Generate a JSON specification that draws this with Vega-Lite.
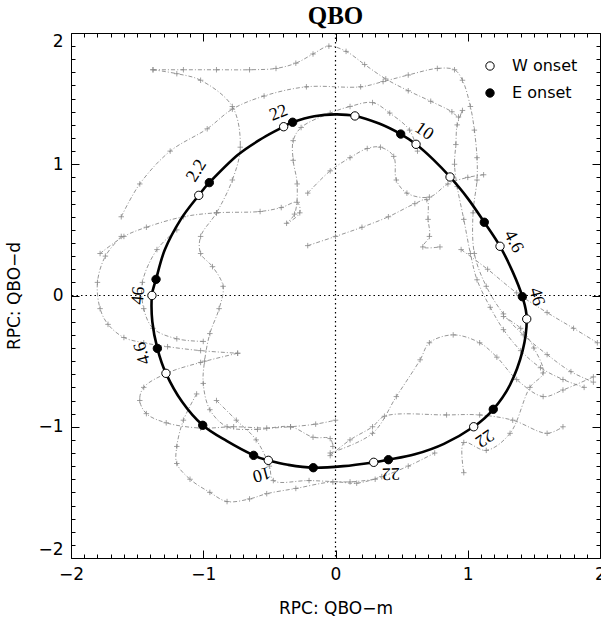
{
  "$schema": "https://vega.github.io/schema/vega-lite/v6.json",
  "autosize": {"type": "none"},
  "padding": {"left": 71, "top": 33, "right": 1, "bottom": 64},
  "width": 529,
  "height": 525,
  "background": "white",
  "title": {"text": "QBO", "font": "Liberation Serif", "fontSize": 25, "fontWeight": "bold", "color": "black", "anchor": "middle", "offset": 3},
  "config": {
    "view": {"stroke": "black", "strokeWidth": 1},
    "axis": {"grid": false, "domain": false, "tickColor": "black", "labelColor": "black", "titleColor": "black", "labelOverlap": false}
  },
  "datasets": {
    "strands": [
      {"s":1,"i":0,"x":-1.38,"y":1.72},{"s":1,"i":1,"x":-1.15,"y":1.72},{"s":1,"i":2,"x":-0.9,"y":1.72},{"s":1,"i":3,"x":-0.65,"y":1.72},{"s":1,"i":4,"x":-0.45,"y":1.73},{"s":1,"i":5,"x":-0.3,"y":1.77},{"s":1,"i":6,"x":-0.17,"y":1.84},{"s":1,"i":7,"x":-0.05,"y":1.9},{"s":1,"i":8,"x":0.08,"y":1.86},{"s":1,"i":9,"x":0.22,"y":1.76},{"s":1,"i":10,"x":0.38,"y":1.65},{"s":1,"i":11,"x":0.55,"y":1.56},{"s":1,"i":12,"x":0.72,"y":1.48},{"s":1,"i":13,"x":0.88,"y":1.4},{"s":1,"i":14,"x":0.93,"y":1.36},{"s":1,"i":15,"x":0.96,"y":1.41},{"s":1,"i":16,"x":0.92,"y":1.3},{"s":1,"i":17,"x":0.91,"y":1.15},{"s":1,"i":18,"x":0.9,"y":1.0},{"s":1,"i":19,"x":0.92,"y":0.83},{"s":1,"i":20,"x":0.97,"y":0.58},{"s":1,"i":21,"x":1.02,"y":0.32},{"s":1,"i":22,"x":1.07,"y":0.12},{"s":1,"i":23,"x":1.17,"y":-0.09},{"s":1,"i":24,"x":1.27,"y":-0.26},{"s":1,"i":25,"x":1.4,"y":-0.42},{"s":1,"i":26,"x":1.55,"y":-0.55},{"s":1,"i":27,"x":1.72,"y":-0.64},{"s":1,"i":28,"x":1.88,"y":-0.7},
      {"s":2,"i":0,"x":-1.62,"y":0.6},{"s":2,"i":1,"x":-1.48,"y":0.85},{"s":2,"i":2,"x":-1.25,"y":1.1},{"s":2,"i":3,"x":-0.97,"y":1.27},{"s":2,"i":4,"x":-0.78,"y":1.42},{"s":2,"i":5,"x":-0.54,"y":1.52},{"s":2,"i":6,"x":-0.22,"y":1.59},{"s":2,"i":7,"x":0.19,"y":1.59},{"s":2,"i":8,"x":0.36,"y":1.63},{"s":2,"i":9,"x":0.55,"y":1.68},{"s":2,"i":10,"x":0.77,"y":1.73},{"s":2,"i":11,"x":0.9,"y":1.72},{"s":2,"i":12,"x":0.96,"y":1.64},{"s":2,"i":13,"x":1.02,"y":1.44},{"s":2,"i":14,"x":1.05,"y":1.26},{"s":2,"i":15,"x":1.07,"y":1.05},{"s":2,"i":16,"x":1.07,"y":0.88},{"s":2,"i":17,"x":1.04,"y":0.63},{"s":2,"i":18,"x":1.05,"y":0.32},{"s":2,"i":19,"x":1.14,"y":0.07},{"s":2,"i":20,"x":1.27,"y":-0.14},{"s":2,"i":21,"x":1.42,"y":-0.3},{"s":2,"i":22,"x":1.6,"y":-0.45},{"s":2,"i":23,"x":1.78,"y":-0.58},{"s":2,"i":24,"x":1.95,"y":-0.66},
      {"s":3,"i":0,"x":-1.38,"y":1.72},{"s":3,"i":1,"x":-1.2,"y":1.69},{"s":3,"i":2,"x":-1.02,"y":1.64},{"s":3,"i":3,"x":-0.78,"y":1.44},{"s":3,"i":4,"x":-0.72,"y":1.13},{"s":3,"i":5,"x":-0.78,"y":0.88},{"s":3,"i":6,"x":-0.9,"y":0.63},{"s":3,"i":7,"x":-1.02,"y":0.45},{"s":3,"i":8,"x":-1.02,"y":0.32},{"s":3,"i":9,"x":-0.93,"y":0.22},{"s":3,"i":10,"x":-0.85,"y":0.07},{"s":3,"i":11,"x":-0.88,"y":-0.1},{"s":3,"i":12,"x":-0.95,"y":-0.29},{"s":3,"i":13,"x":-0.99,"y":-0.5},{"s":3,"i":14,"x":-1.0,"y":-0.67},{"s":3,"i":15,"x":-0.95,"y":-0.87},{"s":3,"i":16,"x":-0.82,"y":-1.0},{"s":3,"i":17,"x":-0.59,"y":-1.02},{"s":3,"i":18,"x":-0.34,"y":-1.0},{"s":3,"i":19,"x":-0.17,"y":-1.08},{"s":3,"i":20,"x":-0.04,"y":-1.09},{"s":3,"i":21,"x":-0.02,"y":-1.15},
      {"s":4,"i":0,"x":-1.78,"y":0.32},{"s":4,"i":1,"x":-1.6,"y":0.45},{"s":4,"i":2,"x":-1.43,"y":0.52},{"s":4,"i":3,"x":-1.15,"y":0.6},{"s":4,"i":4,"x":-0.9,"y":0.63},{"s":4,"i":5,"x":-0.57,"y":0.64},{"s":4,"i":6,"x":-0.41,"y":0.67},{"s":4,"i":7,"x":-0.29,"y":0.71},{"s":4,"i":8,"x":-0.27,"y":0.63},{"s":4,"i":9,"x":-0.37,"y":0.55},{"s":4,"i":10,"x":-0.31,"y":0.62},{"s":4,"i":11,"x":-0.29,"y":0.85},{"s":4,"i":12,"x":-0.32,"y":1.03},{"s":4,"i":13,"x":-0.32,"y":1.18},{"s":4,"i":14,"x":-0.26,"y":1.28},{"s":4,"i":15,"x":-0.04,"y":1.39},{"s":4,"i":16,"x":0.11,"y":1.44},{"s":4,"i":17,"x":0.28,"y":1.47},{"s":4,"i":18,"x":0.41,"y":1.39},{"s":4,"i":19,"x":0.56,"y":1.26},{"s":4,"i":20,"x":0.62,"y":1.1},
      {"s":5,"i":0,"x":-0.21,"y":0.78},{"s":5,"i":1,"x":-0.04,"y":0.95},{"s":5,"i":2,"x":0.11,"y":1.05},{"s":5,"i":3,"x":0.24,"y":1.12},{"s":5,"i":4,"x":0.34,"y":1.13},{"s":5,"i":5,"x":0.44,"y":1.06},{"s":5,"i":6,"x":0.46,"y":0.88},{"s":5,"i":7,"x":0.54,"y":0.78},{"s":5,"i":8,"x":0.71,"y":0.75},{"s":5,"i":9,"x":0.85,"y":0.85},{"s":5,"i":10,"x":1.0,"y":0.9},{"s":5,"i":11,"x":1.12,"y":0.92},
      {"s":6,"i":0,"x":-0.21,"y":0.38},{"s":6,"i":1,"x":0.0,"y":0.45},{"s":6,"i":2,"x":0.2,"y":0.52},{"s":6,"i":3,"x":0.4,"y":0.6},{"s":6,"i":4,"x":0.6,"y":0.7},{"s":6,"i":5,"x":0.69,"y":0.73},{"s":6,"i":6,"x":0.7,"y":0.58},{"s":6,"i":7,"x":0.71,"y":0.45},{"s":6,"i":8,"x":0.66,"y":0.37},{"s":6,"i":9,"x":0.79,"y":0.37},
      {"s":7,"i":0,"x":-1.62,"y":0.45},{"s":7,"i":1,"x":-1.74,"y":0.3},{"s":7,"i":2,"x":-1.8,"y":0.1},{"s":7,"i":3,"x":-1.78,"y":-0.1},{"s":7,"i":4,"x":-1.72,"y":-0.22},{"s":7,"i":5,"x":-1.6,"y":-0.32},{"s":7,"i":6,"x":-1.45,"y":-0.36},{"s":7,"i":7,"x":-1.27,"y":-0.39},{"s":7,"i":8,"x":-1.02,"y":-0.42},{"s":7,"i":9,"x":-0.74,"y":-0.44},
      {"s":8,"i":0,"x":-0.74,"y":-0.44},{"s":8,"i":1,"x":-1.02,"y":-0.51},{"s":8,"i":2,"x":-1.27,"y":-0.59},{"s":8,"i":3,"x":-1.45,"y":-0.7},{"s":8,"i":4,"x":-1.48,"y":-0.8},{"s":8,"i":5,"x":-1.43,"y":-0.9},{"s":8,"i":6,"x":-1.28,"y":-0.97},{"s":8,"i":7,"x":-1.02,"y":-1.01},{"s":8,"i":8,"x":-0.77,"y":-1.0},{"s":8,"i":9,"x":-0.52,"y":-1.01},{"s":8,"i":10,"x":-0.34,"y":-1.0},{"s":8,"i":11,"x":-0.15,"y":-0.98},{"s":8,"i":12,"x":0.0,"y":-0.95},
      {"s":9,"i":0,"x":-1.05,"y":-0.75},{"s":9,"i":1,"x":-1.15,"y":-0.95},{"s":9,"i":2,"x":-1.2,"y":-1.15},{"s":9,"i":3,"x":-1.2,"y":-1.28},{"s":9,"i":4,"x":-1.1,"y":-1.4},{"s":9,"i":5,"x":-0.95,"y":-1.5},{"s":9,"i":6,"x":-0.82,"y":-1.57},{"s":9,"i":7,"x":-0.65,"y":-1.55},{"s":9,"i":8,"x":-0.52,"y":-1.51},{"s":9,"i":9,"x":-0.3,"y":-1.47},{"s":9,"i":10,"x":-0.02,"y":-1.42},{"s":9,"i":11,"x":0.16,"y":-1.43},{"s":9,"i":12,"x":0.35,"y":-1.38},{"s":9,"i":13,"x":0.55,"y":-1.3},{"s":9,"i":14,"x":0.75,"y":-1.2},
      {"s":10,"i":0,"x":-0.9,"y":-0.8},{"s":10,"i":1,"x":-0.75,"y":-0.95},{"s":10,"i":2,"x":-0.6,"y":-1.1},{"s":10,"i":3,"x":-0.5,"y":-1.3},{"s":10,"i":4,"x":-0.47,"y":-1.41},{"s":10,"i":5,"x":-0.2,"y":-1.41},{"s":10,"i":6,"x":0.11,"y":-1.42},{"s":10,"i":7,"x":0.3,"y":-1.4},
      {"s":11,"i":0,"x":-0.04,"y":-1.2},{"s":11,"i":1,"x":0.28,"y":-1.05},{"s":11,"i":2,"x":0.46,"y":-0.77},{"s":11,"i":3,"x":0.64,"y":-0.49},{"s":11,"i":4,"x":0.71,"y":-0.36},{"s":11,"i":5,"x":0.89,"y":-0.3},{"s":11,"i":6,"x":1.09,"y":-0.36},{"s":11,"i":7,"x":1.22,"y":-0.47},{"s":11,"i":8,"x":1.37,"y":-0.64},{"s":11,"i":9,"x":1.57,"y":-0.77},{"s":11,"i":10,"x":1.72,"y":-0.72},{"s":11,"i":11,"x":1.95,"y":-0.62},
      {"s":12,"i":0,"x":-0.04,"y":-1.22},{"s":12,"i":1,"x":0.11,"y":-1.1},{"s":12,"i":2,"x":0.28,"y":-1.0},{"s":12,"i":3,"x":0.37,"y":-0.92},{"s":12,"i":4,"x":0.84,"y":-0.91},{"s":12,"i":5,"x":1.09,"y":-0.91},{"s":12,"i":6,"x":1.34,"y":-0.95},{"s":12,"i":7,"x":1.6,"y":-1.05},{"s":12,"i":8,"x":1.72,"y":-1.0},
      {"s":13,"i":0,"x":0.97,"y":-1.35},{"s":13,"i":1,"x":0.97,"y":-1.12},{"s":13,"i":2,"x":1.14,"y":-1.18},{"s":13,"i":3,"x":1.32,"y":-1.05},{"s":13,"i":4,"x":1.47,"y":-0.7},{"s":13,"i":5,"x":1.57,"y":-0.59},{"s":13,"i":6,"x":1.5,"y":-0.4},{"s":13,"i":7,"x":1.4,"y":-0.25},{"s":13,"i":8,"x":1.27,"y":-0.16},
      {"s":14,"i":0,"x":0.95,"y":0.35},{"s":14,"i":1,"x":1.15,"y":0.2},{"s":14,"i":2,"x":1.37,"y":0.02},{"s":14,"i":3,"x":1.6,"y":-0.13},{"s":14,"i":4,"x":1.8,"y":-0.25},{"s":14,"i":5,"x":1.98,"y":-0.36},
      {"s":15,"i":0,"x":-1.2,"y":0.5},{"s":15,"i":1,"x":-1.35,"y":0.35},{"s":15,"i":2,"x":-1.46,"y":0.1},{"s":15,"i":3,"x":-1.45,"y":-0.1},{"s":15,"i":4,"x":-1.38,"y":-0.25},{"s":15,"i":5,"x":-1.2,"y":-0.33},{"s":15,"i":6,"x":-1.0,"y":-0.35}
    ],
    "cycle": [
      {"i":0,"x":0.0,"y":1.38},{"i":1,"x":0.147,"y":1.368},{"i":2,"x":0.33,"y":1.31},{"i":3,"x":0.493,"y":1.23},{"i":4,"x":0.609,"y":1.152},{"i":5,"x":0.74,"y":1.035},{"i":6,"x":0.866,"y":0.903},{"i":7,"x":1.0,"y":0.74},{"i":8,"x":1.125,"y":0.558},{"i":9,"x":1.244,"y":0.375},{"i":10,"x":1.34,"y":0.18},{"i":11,"x":1.413,"y":-0.009},{"i":12,"x":1.446,"y":-0.179},{"i":13,"x":1.415,"y":-0.42},{"i":14,"x":1.32,"y":-0.68},{"i":15,"x":1.193,"y":-0.867},{"i":16,"x":1.045,"y":-1.0},{"i":17,"x":0.82,"y":-1.13},{"i":18,"x":0.6,"y":-1.21},{"i":19,"x":0.4,"y":-1.251},{"i":20,"x":0.289,"y":-1.271},{"i":21,"x":0.06,"y":-1.3},{"i":22,"x":-0.168,"y":-1.312},{"i":23,"x":-0.36,"y":-1.29},{"i":24,"x":-0.508,"y":-1.256},{"i":25,"x":-0.619,"y":-1.218},{"i":26,"x":-0.82,"y":-1.11},{"i":27,"x":-1.004,"y":-0.989},{"i":28,"x":-1.16,"y":-0.81},{"i":29,"x":-1.282,"y":-0.593},{"i":30,"x":-1.347,"y":-0.403},{"i":31,"x":-1.385,"y":-0.2},{"i":32,"x":-1.388,"y":0.0},{"i":33,"x":-1.357,"y":0.123},{"i":34,"x":-1.29,"y":0.35},{"i":35,"x":-1.17,"y":0.58},{"i":36,"x":-1.034,"y":0.763},{"i":37,"x":-0.954,"y":0.86},{"i":38,"x":-0.74,"y":1.07},{"i":39,"x":-0.55,"y":1.2},{"i":40,"x":-0.392,"y":1.286},{"i":41,"x":-0.324,"y":1.32},{"i":42,"x":-0.16,"y":1.365}
    ],
    "onsets": [
      {"type":"W onset","x":0.147,"y":1.368},{"type":"W onset","x":0.609,"y":1.152},{"type":"W onset","x":0.866,"y":0.903},{"type":"W onset","x":1.244,"y":0.375},{"type":"W onset","x":1.446,"y":-0.179},{"type":"W onset","x":1.045,"y":-1.0},{"type":"W onset","x":0.289,"y":-1.271},{"type":"W onset","x":-0.508,"y":-1.256},{"type":"W onset","x":-1.282,"y":-0.593},{"type":"W onset","x":-1.388,"y":0.0},{"type":"W onset","x":-1.034,"y":0.763},{"type":"W onset","x":-0.392,"y":1.286},
      {"type":"E onset","x":0.493,"y":1.23},{"type":"E onset","x":1.125,"y":0.558},{"type":"E onset","x":1.413,"y":-0.009},{"type":"E onset","x":1.193,"y":-0.867},{"type":"E onset","x":0.4,"y":-1.251},{"type":"E onset","x":-0.168,"y":-1.312},{"type":"E onset","x":-0.619,"y":-1.218},{"type":"E onset","x":-1.004,"y":-0.989},{"type":"E onset","x":-1.347,"y":-0.403},{"type":"E onset","x":-1.357,"y":0.123},{"type":"E onset","x":-0.954,"y":0.86},{"type":"E onset","x":-0.324,"y":1.32}
    ],
    "levels": [
      {"id":1,"lab":"22","x":-0.43,"y":1.39},
      {"id":2,"lab":"2.2","x":-1.05,"y":0.95},
      {"id":3,"lab":"46","x":-1.49,"y":0.0},
      {"id":4,"lab":"4.6","x":-1.46,"y":-0.44},
      {"id":5,"lab":"10","x":-0.56,"y":-1.36},
      {"id":6,"lab":"22","x":0.42,"y":-1.355},
      {"id":7,"lab":"22","x":1.125,"y":-1.085},
      {"id":8,"lab":"46","x":1.52,"y":-0.01},
      {"id":9,"lab":"4.6","x":1.345,"y":0.41},
      {"id":10,"lab":"10","x":0.67,"y":1.25}
    ]
  },
  "resolve": {"axis": {"x": "independent", "y": "independent"}},
  "layer": [
    {
      "data": {"values": [{"z": 0}]},
      "mark": {"type": "rule", "color": "black", "strokeWidth": 1.2, "strokeDash": [1.5, 3]},
      "encoding": {"x": {"field": "z", "type": "quantitative", "scale": {"domain": [-2, 2], "nice": false, "zero": false}, "axis": null}}
    },
    {
      "data": {"values": [{"z": 0}]},
      "mark": {"type": "rule", "color": "black", "strokeWidth": 1.2, "strokeDash": [1.5, 3]},
      "encoding": {"y": {"field": "z", "type": "quantitative", "scale": {"domain": [-2, 2], "nice": false, "zero": false}, "axis": null}}
    },
    {
      "data": {"name": "strands"},
      "mark": {"type": "line", "interpolate": "catmull-rom", "color": "#8a8a8a", "strokeWidth": 0.9, "strokeDash": [4, 2, 1, 2]},
      "encoding": {
        "x": {"field": "x", "type": "quantitative", "scale": {"domain": [-2, 2], "nice": false, "zero": false},
          "axis": {"orient": "bottom", "values": [-2,-1.9,-1.8,-1.7,-1.6,-1.5,-1.4,-1.3,-1.2,-1.1,-1,-0.9,-0.8,-0.7,-0.6,-0.5,-0.4,-0.3,-0.2,-0.1,0,0.1,0.2,0.3,0.4,0.5,0.6,0.7,0.8,0.9,1,1.1,1.2,1.3,1.4,1.5,1.6,1.7,1.8,1.9,2],
            "labelExpr": "abs(datum.value - round(datum.value)) < 0.001 ? format(datum.value, 'd') : ''",
            "tickSize": {"condition": {"test": "abs(datum.value - round(datum.value)) < 0.001", "value": -8}, "value": -4},
            "labelFont": "DejaVu Sans", "labelFontSize": 17, "labelPadding": 16, "labelFlush": false,
            "title": "RPC: QBO−m", "titleFont": "DejaVu Sans", "titleFontSize": 17, "titleFontWeight": "normal", "titlePadding": 14}},
        "y": {"field": "y", "type": "quantitative", "scale": {"domain": [-2, 2], "nice": false, "zero": false},
          "axis": {"orient": "left", "values": [-2,-1.9,-1.8,-1.7,-1.6,-1.5,-1.4,-1.3,-1.2,-1.1,-1,-0.9,-0.8,-0.7,-0.6,-0.5,-0.4,-0.3,-0.2,-0.1,0,0.1,0.2,0.3,0.4,0.5,0.6,0.7,0.8,0.9,1,1.1,1.2,1.3,1.4,1.5,1.6,1.7,1.8,1.9,2],
            "labelExpr": "abs(datum.value - round(datum.value)) < 0.001 ? format(datum.value, 'd') : ''",
            "tickSize": {"condition": {"test": "abs(datum.value - round(datum.value)) < 0.001", "value": -8}, "value": -4},
            "labelFont": "DejaVu Sans", "labelFontSize": 17, "labelPadding": 16, "labelFlush": true, "labelFlushOffset": 0,
            "title": "RPC: QBO−d", "titleFont": "DejaVu Sans", "titleFontSize": 17, "titleFontWeight": "normal", "titlePadding": 14}},
        "detail": {"field": "s", "type": "nominal"},
        "order": {"field": "i", "type": "quantitative"}
      }
    },
    {
      "data": {"name": "strands"},
      "mark": {"type": "point", "shape": "M-1,0L1,0M0,-1L0,1", "filled": false, "stroke": "#8a8a8a", "strokeWidth": 0.8, "size": 30, "opacity": 1},
      "encoding": {
        "x": {"field": "x", "type": "quantitative", "scale": {"domain": [-2, 2], "nice": false, "zero": false},
          "axis": {"orient": "top", "values": [-2,-1.9,-1.8,-1.7,-1.6,-1.5,-1.4,-1.3,-1.2,-1.1,-1,-0.9,-0.8,-0.7,-0.6,-0.5,-0.4,-0.3,-0.2,-0.1,0,0.1,0.2,0.3,0.4,0.5,0.6,0.7,0.8,0.9,1,1.1,1.2,1.3,1.4,1.5,1.6,1.7,1.8,1.9,2],
            "labels": false, "title": null,
            "tickSize": {"condition": {"test": "abs(datum.value - round(datum.value)) < 0.001", "value": -8}, "value": -4}}},
        "y": {"field": "y", "type": "quantitative", "scale": {"domain": [-2, 2], "nice": false, "zero": false},
          "axis": {"orient": "right", "values": [-2,-1.9,-1.8,-1.7,-1.6,-1.5,-1.4,-1.3,-1.2,-1.1,-1,-0.9,-0.8,-0.7,-0.6,-0.5,-0.4,-0.3,-0.2,-0.1,0,0.1,0.2,0.3,0.4,0.5,0.6,0.7,0.8,0.9,1,1.1,1.2,1.3,1.4,1.5,1.6,1.7,1.8,1.9,2],
            "labels": false, "title": null,
            "tickSize": {"condition": {"test": "abs(datum.value - round(datum.value)) < 0.001", "value": -8}, "value": -4}}}
      }
    },
    {
      "data": {"name": "cycle"},
      "mark": {"type": "line", "interpolate": "cardinal-closed", "color": "black", "strokeWidth": 2.6},
      "encoding": {
        "x": {"field": "x", "type": "quantitative", "scale": {"domain": [-2, 2], "nice": false, "zero": false}, "axis": null},
        "y": {"field": "y", "type": "quantitative", "scale": {"domain": [-2, 2], "nice": false, "zero": false}, "axis": null},
        "order": {"field": "i", "type": "quantitative"}
      }
    },
    {
      "data": {"name": "onsets"},
      "mark": {"type": "point", "shape": "circle", "filled": true, "stroke": "black", "strokeWidth": 1, "size": 70, "opacity": 1},
      "encoding": {
        "x": {"field": "x", "type": "quantitative", "scale": {"domain": [-2, 2], "nice": false, "zero": false}, "axis": null},
        "y": {"field": "y", "type": "quantitative", "scale": {"domain": [-2, 2], "nice": false, "zero": false}, "axis": null},
        "fill": {"field": "type", "type": "nominal", "scale": {"domain": ["W onset", "E onset"], "range": ["white", "black"]},
          "legend": {"title": null, "orient": "none", "legendX": 411, "legendY": 25, "padding": 0, "symbolType": "circle", "symbolSize": 70, "symbolStrokeColor": "black", "symbolStrokeWidth": 1, "symbolOpacity": 1, "labelFont": "DejaVu Sans", "labelFontSize": 16, "labelColor": "black", "labelOffset": 14, "rowPadding": 11}}
      }
    },
    {"data": {"name": "levels"}, "transform": [{"filter": "datum.id == 1"}], "mark": {"type": "text", "font": "Liberation Serif", "fontSize": 18, "color": "black", "align": "center", "baseline": "middle", "angle": -22},
      "encoding": {"x": {"field": "x", "type": "quantitative", "scale": {"domain": [-2, 2]}, "axis": null}, "y": {"field": "y", "type": "quantitative", "scale": {"domain": [-2, 2]}, "axis": null}, "text": {"field": "lab"}}},
    {"data": {"name": "levels"}, "transform": [{"filter": "datum.id == 2"}], "mark": {"type": "text", "font": "Liberation Serif", "fontSize": 18, "color": "black", "align": "center", "baseline": "middle", "angle": -58},
      "encoding": {"x": {"field": "x", "type": "quantitative", "scale": {"domain": [-2, 2]}, "axis": null}, "y": {"field": "y", "type": "quantitative", "scale": {"domain": [-2, 2]}, "axis": null}, "text": {"field": "lab"}}},
    {"data": {"name": "levels"}, "transform": [{"filter": "datum.id == 3"}], "mark": {"type": "text", "font": "Liberation Serif", "fontSize": 18, "color": "black", "align": "center", "baseline": "middle", "angle": -85},
      "encoding": {"x": {"field": "x", "type": "quantitative", "scale": {"domain": [-2, 2]}, "axis": null}, "y": {"field": "y", "type": "quantitative", "scale": {"domain": [-2, 2]}, "axis": null}, "text": {"field": "lab"}}},
    {"data": {"name": "levels"}, "transform": [{"filter": "datum.id == 4"}], "mark": {"type": "text", "font": "Liberation Serif", "fontSize": 18, "color": "black", "align": "center", "baseline": "middle", "angle": -105},
      "encoding": {"x": {"field": "x", "type": "quantitative", "scale": {"domain": [-2, 2]}, "axis": null}, "y": {"field": "y", "type": "quantitative", "scale": {"domain": [-2, 2]}, "axis": null}, "text": {"field": "lab"}}},
    {"data": {"name": "levels"}, "transform": [{"filter": "datum.id == 5"}], "mark": {"type": "text", "font": "Liberation Serif", "fontSize": 18, "color": "black", "align": "center", "baseline": "middle", "angle": 165},
      "encoding": {"x": {"field": "x", "type": "quantitative", "scale": {"domain": [-2, 2]}, "axis": null}, "y": {"field": "y", "type": "quantitative", "scale": {"domain": [-2, 2]}, "axis": null}, "text": {"field": "lab"}}},
    {"data": {"name": "levels"}, "transform": [{"filter": "datum.id == 6"}], "mark": {"type": "text", "font": "Liberation Serif", "fontSize": 18, "color": "black", "align": "center", "baseline": "middle", "angle": 178},
      "encoding": {"x": {"field": "x", "type": "quantitative", "scale": {"domain": [-2, 2]}, "axis": null}, "y": {"field": "y", "type": "quantitative", "scale": {"domain": [-2, 2]}, "axis": null}, "text": {"field": "lab"}}},
    {"data": {"name": "levels"}, "transform": [{"filter": "datum.id == 7"}], "mark": {"type": "text", "font": "Liberation Serif", "fontSize": 18, "color": "black", "align": "center", "baseline": "middle", "angle": 145},
      "encoding": {"x": {"field": "x", "type": "quantitative", "scale": {"domain": [-2, 2]}, "axis": null}, "y": {"field": "y", "type": "quantitative", "scale": {"domain": [-2, 2]}, "axis": null}, "text": {"field": "lab"}}},
    {"data": {"name": "levels"}, "transform": [{"filter": "datum.id == 8"}], "mark": {"type": "text", "font": "Liberation Serif", "fontSize": 18, "color": "black", "align": "center", "baseline": "middle", "angle": 75},
      "encoding": {"x": {"field": "x", "type": "quantitative", "scale": {"domain": [-2, 2]}, "axis": null}, "y": {"field": "y", "type": "quantitative", "scale": {"domain": [-2, 2]}, "axis": null}, "text": {"field": "lab"}}},
    {"data": {"name": "levels"}, "transform": [{"filter": "datum.id == 9"}], "mark": {"type": "text", "font": "Liberation Serif", "fontSize": 18, "color": "black", "align": "center", "baseline": "middle", "angle": 62},
      "encoding": {"x": {"field": "x", "type": "quantitative", "scale": {"domain": [-2, 2]}, "axis": null}, "y": {"field": "y", "type": "quantitative", "scale": {"domain": [-2, 2]}, "axis": null}, "text": {"field": "lab"}}},
    {"data": {"name": "levels"}, "transform": [{"filter": "datum.id == 10"}], "mark": {"type": "text", "font": "Liberation Serif", "fontSize": 18, "color": "black", "align": "center", "baseline": "middle", "angle": 35},
      "encoding": {"x": {"field": "x", "type": "quantitative", "scale": {"domain": [-2, 2]}, "axis": null}, "y": {"field": "y", "type": "quantitative", "scale": {"domain": [-2, 2]}, "axis": null}, "text": {"field": "lab"}}}
  ]
}
